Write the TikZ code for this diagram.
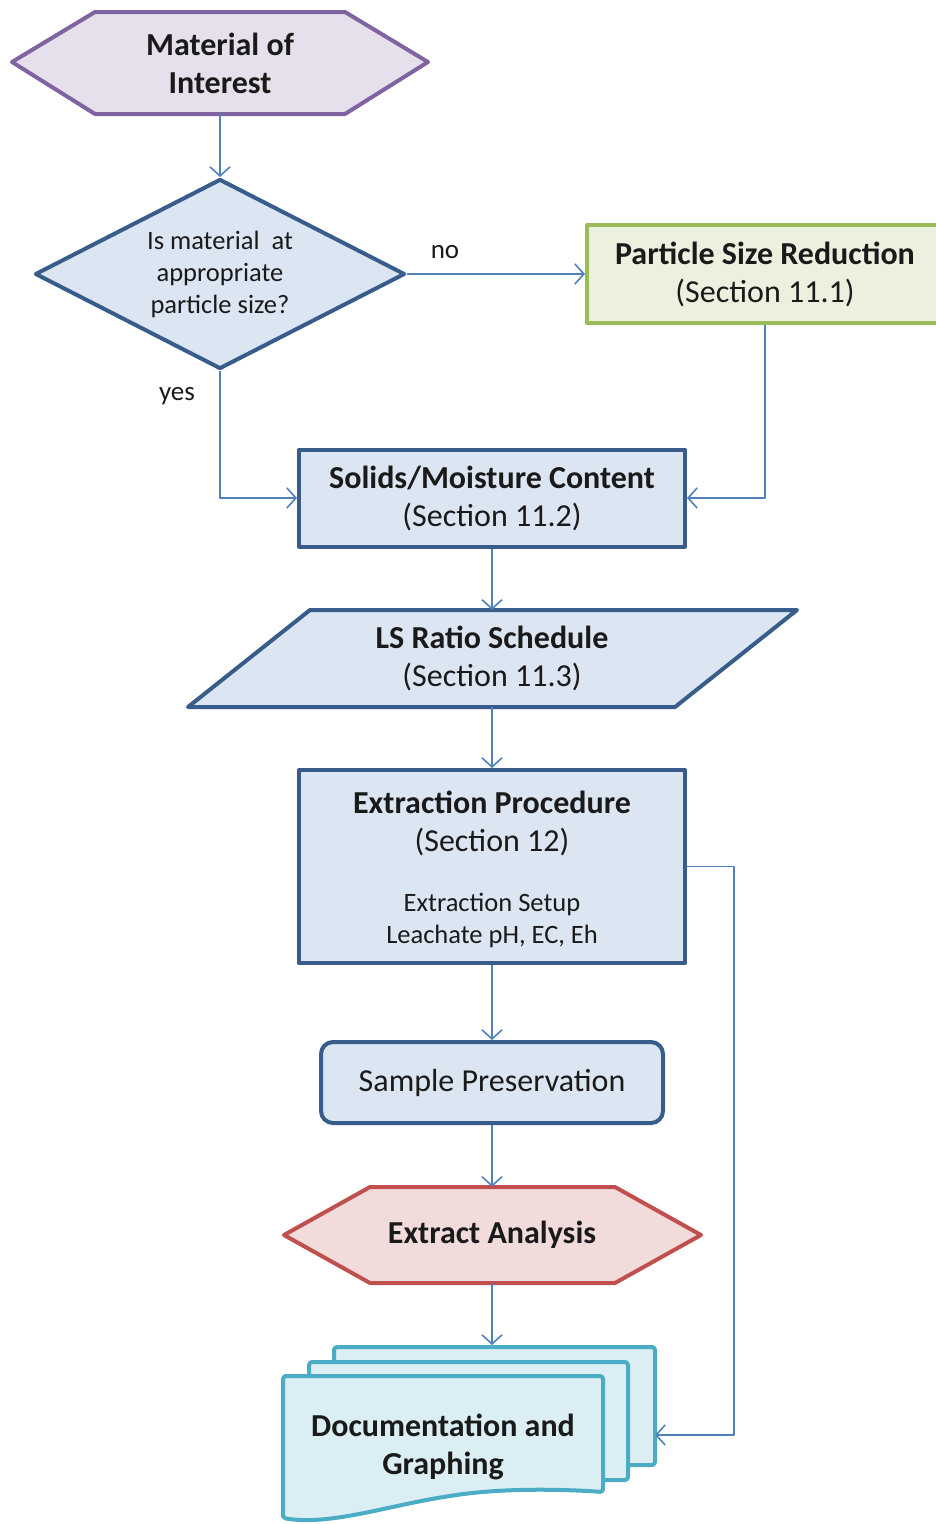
\documentclass[tikz,border=0pt]{standalone}
\usepackage{fontspec}
\setmainfont{Carlito}
\usetikzlibrary{arrows.meta,positioning,shapes.geometric}
\definecolor{flowBlue}{HTML}{DCE6F2}
\definecolor{flowBlueLine}{HTML}{385D8A}
\definecolor{flowPurple}{HTML}{E5E0EC}
\definecolor{flowPurpleLine}{HTML}{8064A2}
\definecolor{flowGreen}{HTML}{EBF1DE}
\definecolor{flowGreenLine}{HTML}{9BBB59}
\definecolor{flowRed}{HTML}{F2DCDB}
\definecolor{flowRedLine}{HTML}{C0504D}
\definecolor{flowTeal}{HTML}{DAEEF3}
\definecolor{flowTealLine}{HTML}{4BACC6}
\definecolor{flowArrow}{HTML}{4F81BD}
\definecolor{flowInk}{HTML}{1A1A1A}
\begin{document}
\begin{tikzpicture}[x=1pt,y=-1pt,>={Straight Barb[length=9pt,width=20pt]},line join=round]
\useasboundingbox (0,0) rectangle (935,1524);
\path[fill=white] (0,0) rectangle (935,1524);
\tikzset{link/.style={draw=flowArrow,line width=1.6pt,->},big/.style={text=flowInk,font=\fontsize{32}{38}\selectfont,align=center,inner sep=0pt},small/.style={text=flowInk,font=\fontsize{26.5}{32}\selectfont,align=center,inner sep=0pt},bluebox/.style={draw=flowBlueLine,fill=flowBlue,line width=4pt},docsheet/.style={draw=flowTealLine,fill=flowTeal,line width=4pt,rounded corners=3pt}}
% start and decision
\path[draw=flowPurpleLine,fill=flowPurple,line width=4pt] (12,62) -- (95,12) -- (345,12) -- (428,62) -- (345,114) -- (95,114) -- cycle;
\node[big,minimum width=416pt,minimum height=102pt] (mat) at (220,63) {\textbf{Material of}\\\textbf{Interest}};
\node[diamond,aspect=1.95,draw=flowBlueLine,fill=flowBlue,line width=4pt,minimum width=370pt,minimum height=190pt,small] (ask) at (220,274) {Is material~ at\\appropriate\\particle size?};
\node[draw=flowGreenLine,fill=flowGreen,line width=4pt,minimum width=356pt,minimum height=98pt,big] (psr) at (765,274) {\textbf{Particle Size Reduction}\\(Section 11.1)};
\node[small,font=\fontsize{27}{30}\selectfont] (lblNo) at (445,252) {no};
\node[small,font=\fontsize{27}{30}\selectfont] (lblYes) at (177,396) {yes};
% main column
\node[bluebox,minimum width=386pt,minimum height=97pt,big] (solid) at (492,498) {\textbf{Solids/Moisture Content}\\(Section 11.2)};
\path[draw=flowBlueLine,fill=flowBlue,line width=4pt] (188,707) -- (310,610) -- (797,610) -- (675,707) -- cycle;
\node[big,minimum width=360pt,minimum height=97pt] (lsr) at (492,658.5) {\textbf{LS Ratio Schedule}\\(Section 11.3)};
\node[bluebox,minimum width=386pt,minimum height=193pt] (extr) at (492,866.5) {};
\node[big] (extrHead) at (492,823) {\textbf{Extraction Procedure}\\(Section 12)};
\node[small] (extrNote) at (492,920) {Extraction Setup\\Leachate pH, EC, Eh};
\node[bluebox,rounded corners=12pt,minimum width=342pt,minimum height=81pt,big] (samp) at (492,1082.5) {Sample Preservation};
\path[draw=flowRedLine,fill=flowRed,line width=4pt] (284,1235) -- (370,1187) -- (615,1187) -- (701,1235) -- (615,1283) -- (370,1283) -- cycle;
\node[big,minimum width=300pt,minimum height=96pt] (exan) at (492,1235) {\textbf{Extract Analysis}};
% stacked documents
\node[docsheet,minimum width=321pt,minimum height=118pt] (docBack) at (494.5,1406) {};
\node[docsheet,minimum width=319pt,minimum height=118pt] (docMid) at (468.5,1421) {};
\path[docsheet] (283,1518) -- (283,1376) -- (603,1376) -- (603,1492) .. controls (560,1489) and (500,1488) .. (450,1496) .. controls (390,1505) and (330,1526) .. cycle;
\node[big] (docs) at (443,1447) {\textbf{Documentation and}\\\textbf{Graphing}};
\coordinate (docIn) at (655,1435);
% connectors
\draw[link] (mat.south) -- (ask.north);
\draw[link] (ask.east) -- (psr.west);
\draw[link] (ask.south) |- (solid.west);
\draw[link] (psr.south) |- (solid.east);
\draw[link] (solid.south) -- (lsr.north);
\draw[link] (lsr.south) -- (extr.north);
\draw[link] (extr.south) -- (samp.north);
\draw[link] (samp.south) -- (exan.north);
\draw[link] (exan.south) -- (exan.south |- docBack.north);
\draw[link] (extr.east) -- ++(47,0) |- (docIn);
\end{tikzpicture}
\end{document}
